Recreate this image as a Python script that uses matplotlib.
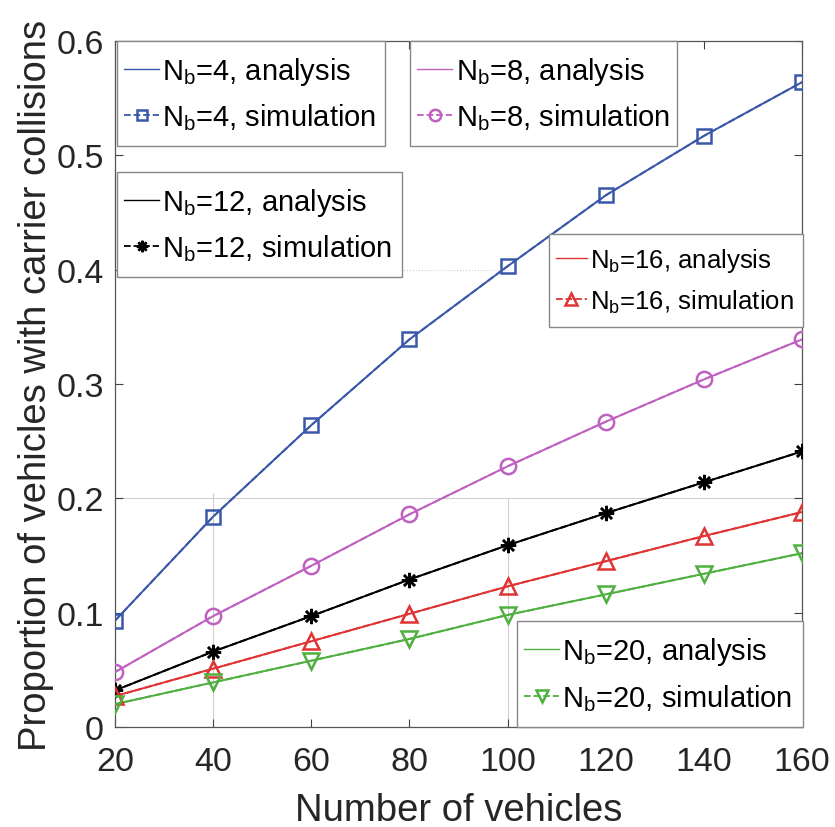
import matplotlib
matplotlib.use("Agg")
import matplotlib.pyplot as plt
from matplotlib.lines import Line2D
from matplotlib.patches import Rectangle

plt.rcParams['font.family'] = ['Liberation Sans', 'DejaVu Sans']
plt.rcParams['mathtext.fontset'] = 'custom'
plt.rcParams['mathtext.rm'] = 'Liberation Sans'
plt.rcParams['mathtext.it'] = 'Liberation Sans'

vehicles = [20, 40, 60, 80, 100, 120, 140, 160]

nb4_analysis = [0.093, 0.184, 0.264, 0.339, 0.403, 0.465, 0.517, 0.564]
nb4_simulation = [0.093, 0.184, 0.264, 0.339, 0.403, 0.465, 0.517, 0.564]
nb8_analysis = [0.048, 0.097, 0.141, 0.186, 0.228, 0.267, 0.304, 0.339]
nb8_simulation = [0.048, 0.097, 0.141, 0.186, 0.228, 0.267, 0.304, 0.339]
nb12_analysis = [0.032, 0.066, 0.097, 0.129, 0.159, 0.187, 0.214, 0.241]
nb12_simulation = [0.032, 0.066, 0.097, 0.129, 0.159, 0.187, 0.214, 0.241]
nb16_analysis = [0.027, 0.051, 0.075, 0.099, 0.123, 0.145, 0.167, 0.188]
nb16_simulation = [0.027, 0.051, 0.075, 0.099, 0.123, 0.145, 0.167, 0.188]
nb20_analysis = [0.020, 0.039, 0.058, 0.077, 0.098, 0.116, 0.134, 0.152]
nb20_simulation = [0.020, 0.039, 0.058, 0.077, 0.098, 0.116, 0.134, 0.152]

labels_nb = ['4', '8', '12', '16', '20']
colors = ['#3a58aa', '#c060c0', '#000000', '#e03333', '#4fb040']
markers = ['s', 'o', (8, 2, 0), '^', 'v']
msizes = [10, 11, 11, 12, 12]
analysis = [nb4_analysis, nb8_analysis, nb12_analysis, nb16_analysis, nb20_analysis]
simulation = [nb4_simulation, nb8_simulation, nb12_simulation, nb16_simulation, nb20_simulation]

W, H = 835, 828
fig = plt.figure(figsize=(W / 100, H / 100), dpi=100)
ax = fig.add_axes([115 / W, 1 - 728 / H, (802 - 115) / W, (728 - 42) / H])

# faint remnant grid lines
gcol = '#d0d0d0'
ax.plot([20, 160], [0.2, 0.2], color=gcol, lw=0.8, zorder=0)
ax.plot([20, 100], [0.4, 0.4], color=gcol, lw=0.8, ls=':', zorder=0)
ax.plot([40, 40], [0, 0.205], color=gcol, lw=0.8, zorder=0)
ax.plot([100, 100], [0, 0.2], color=gcol, lw=0.8, zorder=0)

for i in range(5):
    c = colors[i]
    ax.plot(vehicles, analysis[i], '-', color=c, lw=1.4, zorder=3)
    ax.plot(vehicles, simulation[i], '--', color=c, lw=1.4,
            marker=markers[i], ms=msizes[i], mfc='none', mec=c, mew=1.8, zorder=4)

ax.set_xlim(20, 160)
ax.set_ylim(0, 0.6)
ax.set_xticks(vehicles)
ax.set_yticks([0, 0.1, 0.2, 0.3, 0.4, 0.5, 0.6])
ax.set_yticklabels(['0', '0.1', '0.2', '0.3', '0.4', '0.5', '0.6'])
ax.tick_params(direction='in', length=6, width=0.8, labelsize=24.5, colors='#404040',
               labelcolor='#262626', top=True, right=True)
ax.tick_params(axis='x', pad=14)
ax.tick_params(axis='y', pad=8)
for s in ax.spines.values():
    s.set_color('#555555')
    s.set_linewidth(0.9)

ax.set_xlabel('Number of vehicles', fontsize=27.5, color='#262626')
ax.xaxis.set_label_coords(0.5, -(821 - 728) / 686.0)
ax.xaxis.label.set_va('baseline')
ax.set_ylabel('Proportion of vehicles with carrier collisions', fontsize=27.5,
              color='#262626')
ax.yaxis.set_label_coords((54 - 115) / 687.0, 0.5)

# legend boxes in pixels: (left, top, right, bottom, fontsize)
leg_boxes = [(117, 42, 385, 147, 21), (410, 42, 677, 147, 21), (117, 173, 402, 278, 21),
             (549, 235, 803, 328, 18.5), (517, 622, 803, 728, 21)]
for i in range(5):
    x0, y0, x1, y1, fs = leg_boxes[i]
    rect = Rectangle((x0 / W, 1 - y1 / H), (x1 - x0) / W, (y1 - y0) / H,
                     transform=fig.transFigure, facecolor='white', edgecolor='#888888',
                     lw=1.0, zorder=5)
    fig.add_artist(rect)
    h1 = Line2D([], [], color=colors[i], lw=1.0)
    h2 = Line2D([], [], color=colors[i], lw=1.3, ls='--', marker=markers[i],
                ms=msizes[i] * 0.75, mfc='none', mec=colors[i], mew=1.8)
    lab1 = r'N$_{\mathrm{b}}$=' + labels_nb[i] + ', analysis'
    lab2 = r'N$_{\mathrm{b}}$=' + labels_nb[i] + ', simulation'
    leg = fig.legend([h1, h2], [lab1, lab2], loc='center left',
                     bbox_to_anchor=((x0 + 7) / W, 1 - (y0 + y1) / 2 / H),
                     bbox_transform=fig.transFigure,
                     fontsize=fs, frameon=False, handlelength=1.2, handletextpad=0.12,
                     borderpad=0, labelspacing=0.5, borderaxespad=0)
    leg.set_zorder(6)

fig.savefig('out.png', dpi=100, facecolor='white')
